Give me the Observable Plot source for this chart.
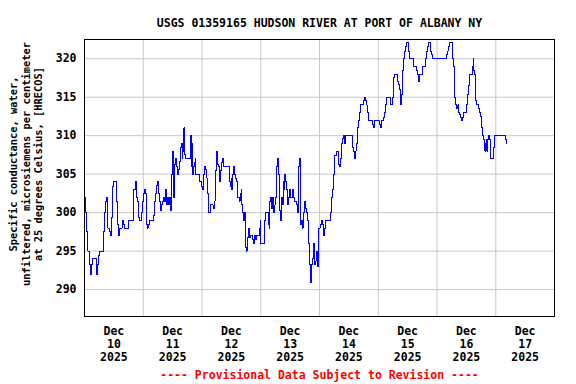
<!DOCTYPE html>
<html>
<head>
<meta charset="utf-8">
<script src="https://cdn.jsdelivr.net/npm/d3@7"></script>
<script src="https://cdn.jsdelivr.net/npm/@observablehq/plot@0.6"></script>
<style>
  html, body { margin: 0; padding: 0; background: #fff; }
</style>
</head>
<body>
<div id="chart"></div>
<script>
// Texts
const titleText = "USGS 01359165 HUDSON RIVER AT PORT OF ALBANY NY";
const yLabelLines = ["Specific conductance, water,", "unfiltered, microsiemens per centimeter", "at 25 degrees Celsius, [HRECOS]"];
const captionText = "---- Provisional Data Subject to Revision ----";

// X axis: hours since Dec 10 2025 00:00; labels at noon of each day
const tickMonths = ["Dec", "Dec", "Dec", "Dec", "Dec", "Dec", "Dec", "Dec"];
const tickDays = ["10", "11", "12", "13", "14", "15", "16", "17"];
const tickYears = ["2025", "2025", "2025", "2025", "2025", "2025", "2025", "2025"];
const dayStartHours = [0, 24, 48, 72, 96, 120, 144, 168, 192];
const yTicks = [290, 295, 300, 305, 310, 315, 320];

// Specific conductance readings: [hours since Dec 10 00:00, µS/cm]
const readings = [
[0,302],[0.54,300],[0.95,297.5],[1.36,295],[2.04,293.3],[2.45,292],[2.86,293.3],[3.40,294],[4.36,294],[4.77,293.5],[5.04,292],[5.45,293.3],[5.86,294.4],[6.27,295],[7.90,297.5],[8.31,300],[8.72,301.5],[9.13,302],[9.53,298],[10.08,297.5],[10.49,297],[10.90,299.4],[11.30,300.4],[11.58,303.4],[11.99,304],[12.80,304],[12.94,301.5],[13.35,298.5],[13.75,297],[14.16,298],[14.98,298],[15.39,299],[15.80,298.5],[16.21,298],[17.84,298],[17.98,299],[19.61,299],[19.88,301.5],[20.16,303],[20.70,303.4],[20.97,304],[21.25,302],[21.66,301.5],[21.93,299.4],[22.34,299],[22.88,299],[23.29,300],[23.70,301.5],[24.24,302.5],[24.65,303],[25.06,302.5],[25.20,298.5],[25.61,298],[26.01,298.5],[26.42,299],[27.92,299],[28.33,299.6],[28.60,301.5],[29.01,302.5],[29.42,303.5],[29.69,304],[30.10,302.5],[30.51,301.5],[30.92,300.3],[31.32,301],[31.87,301.5],[32.28,302],[32.69,301.5],[33.10,303],[33.51,301],[33.91,302],[34.32,301],[34.73,302],[35.14,300.3],[35.55,305],[35.96,308],[36.23,306],[36.50,302],[36.91,306.3],[37.32,307],[37.73,306],[38.14,305],[38.54,305.6],[38.95,306.6],[39.22,308.5],[39.63,309],[39.90,307],[40.18,308],[40.59,311],[40.86,307.6],[41.40,307],[43.04,307],[43.31,310],[43.58,306],[43.85,309],[44.26,305],[44.53,306],[44.94,306.5],[45.35,307],[45.49,305],[46.72,305],[47.13,304],[47.67,303.4],[48.08,303],[48.49,305],[48.90,306],[49.44,305.6],[49.85,304.5],[50.12,302.5],[50.53,302],[50.80,300],[51.48,301],[52.30,301],[52.57,300.5],[52.98,301.5],[53.39,303],[53.66,305.5],[54.07,308],[54.34,306.3],[54.75,306],[55.29,304],[55.57,305.5],[55.97,306.5],[56.52,307],[56.93,306],[59.11,306],[59.24,304],[59.65,303.4],[59.92,304.5],[60.20,303],[60.47,305],[60.74,306],[61.15,305],[61.56,304.5],[61.97,304],[62.38,302],[63.19,301.5],[63.60,302.5],[64.01,303],[64.28,301],[64.69,300],[65.10,299],[65.37,300],[65.65,295.5],[66.05,295],[66.46,296.8],[66.87,298],[67.28,296.8],[67.82,297],
[68.22,297],[68.63,296.5],[68.90,296],[69.31,297],[69.86,296.5],[70.27,297],[71.08,297],[71.49,298],[71.76,299],[72.04,296],[73.26,296],[73.53,299],[73.94,300],[74.62,300],[75.03,298.5],[75.44,298],[75.71,301.5],[76.12,302],[76.39,300.5],[76.67,302],[77.07,300.5],[77.35,300],[77.76,301],[78.16,302],[78.57,306],[78.84,307],[79.12,305],[79.53,303.4],[79.80,300.3],[80.21,299],[80.48,302],[80.89,301],[81.30,304],[81.57,303],[81.84,305],[82.11,304],[82.39,303],[82.79,301],[83.20,302],[83.61,303],[84.02,302],[84.84,303],[85.24,302],[85.65,301.5],[86.61,301],[87.01,300],[87.29,303],[87.56,306],[87.83,307],[88.10,298.5],[88.51,299],[88.92,298],[89.33,300],[89.74,301.5],[90.15,300.5],[90.56,300],[90.96,299],[91.37,298],[91.65,296],[92.05,293.3],[92.19,290.9],[92.60,293.3],[93.01,294],[93.42,296],[93.82,293.3],[94.23,293.7],[94.64,295],[95.05,293],[95.46,298],[96.27,298.5],[96.68,299],[97.09,298.5],[97.64,297],[98.05,298],[98.59,299],[100.63,300],[101.04,302],[101.45,303],[101.86,305],[102.27,307.4],[102.95,308],[103.76,306.3],[104.17,306],[104.58,307],[104.99,309],[105.40,309.6],[105.81,310],[106.21,309],[106.62,310],[109.35,308.5],[109.75,307.9],[110.16,307],[110.57,308],[110.98,309],[111.39,311.1],[111.80,312],[112.21,313],[112.61,314],[113.84,314.6],[114.25,315],[114.66,314.6],[115.07,314],[115.47,313],[115.88,312],[117.52,311.5],[117.92,311.1],[118.33,312],[120.38,311.5],[120.79,311.1],[121.19,312],[122.01,312.4],[122.42,313],[122.83,314],[123.24,315],[124.87,314],[125.69,315],[126.10,317.6],[126.50,318],[127.73,317],[128.14,316.6],[128.55,316],
[129.09,314],[129.36,315.4],[130.04,318.5],[130.45,320],[130.86,321],[131.26,321.6],[131.67,322.1],[132.22,321],[132.63,320.6],[132.90,320],[134.53,319],[135.62,318.5],[136.03,318],[136.44,317.6],[136.57,317],[136.98,318],[138.07,319],[139.30,320],[139.57,321],[140.11,321.6],[140.52,322.1],[141.34,321],[141.75,320.5],[142.02,320],[147.74,320.5],[148.15,321],[148.56,321.6],[148.97,322.1],[150.19,320],[150.60,319],[151.01,317.6],[151.28,315],[151.69,314],[152.10,313.5],[152.51,314],[152.91,313],[153.32,312.7],[153.73,312.4],[154.14,312],[154.55,312.4],[154.96,313],[156.18,314],[156.46,315.4],[156.86,316.5],[157.14,318],[158.50,319],[158.91,320],[159.04,318.5],[159.32,318],[159.59,314.6],[160.00,314],[160.95,313.5],[161.36,313],[161.63,312.5],[162.04,312],[162.31,311],[162.72,310],[162.99,309.5],[163.26,309],[163.54,308],[163.81,309],[164.08,309.5],[164.35,308],[164.63,309.5],[164.90,310],[165.31,309.5],[165.72,308.5],[165.99,307],[167.08,308.5],[167.35,309.5],[167.62,310],[171.98,309.5],[172.25,309]
];

const data = readings.map(([h, v]) => ({hour: h, value: v}));
const tickHours = tickDays.map((d, i) => 12 + 24 * i);
const tickLabel = new Map(tickHours.map((h, i) => [h, `${tickMonths[i]}\n${tickDays[i]}\n${tickYears[i]}`]));
const gridHours = dayStartHours.slice(1, -1);

const chart = Plot.plot({
  width: 576,
  height: 384,
  marginLeft: 84,
  marginRight: 22,
  marginTop: 39,
  marginBottom: 68,
  style: {
    fontFamily: "'DejaVu Sans Mono', monospace",
    fontWeight: "bold",
    fontSize: "11.5px",
    background: "#fff",
    color: "#000"
  },
  x: {domain: [dayStartHours[0], dayStartHours[dayStartHours.length - 1]]},
  y: {domain: [286.5, 322.5]},
  marks: [
    Plot.gridY(yTicks, {stroke: "#c8c8c8", strokeOpacity: 1}),
    Plot.gridX(gridHours, {stroke: "#c8c8c8", strokeOpacity: 1}),
    Plot.line(data, {x: "hour", y: "value", curve: "step-after", stroke: "#0000ff", strokeWidth: 1, shapeRendering: "crispEdges"}),
    Plot.frame({stroke: "#000", strokeWidth: 1}),
    Plot.axisY(yTicks, {tickSize: 0, tickPadding: 8, label: null, fontSize: 11.5}),
    Plot.axisX(tickHours, {tickSize: 0, tickPadding: 9, label: null, tickFormat: d => tickLabel.get(d), lineHeight: 1.13, fontSize: 11.5}),
    Plot.text([titleText], {text: d => d, frameAnchor: "top", dy: -21, fontSize: 11.5, fill: "#000"}),
    Plot.text([captionText], {text: d => d, frameAnchor: "bottom", dy: 62, fontSize: 11.5, fill: "#ff0000"}),
    Plot.text([yLabelLines.join("\n")], {text: d => d, frameAnchor: "left", textAnchor: "middle", lineAnchor: "middle", dx: -59, dy: -14, rotate: -90, fontSize: 10.4, lineHeight: 1.2, fill: "#000"})
  ]
});
document.getElementById("chart").appendChild(chart);
</script>
</body>
</html>
